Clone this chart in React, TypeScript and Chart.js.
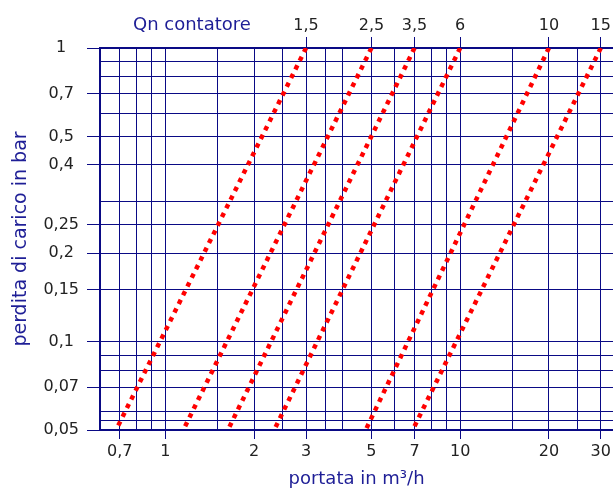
import React, { useEffect, useRef } from 'react';
import { Chart, registerables } from 'chart.js';

Chart.register(...registerables);

// ---- data ----
const qnLabels = ['1,5', '2,5', '3,5', '6', '10', '15'];
// flow (m³/h) where each meter line reaches 1 bar
const flowAt1Bar = [3, 5, 7, 10, 20, 30];
// flow (m³/h) where each meter line reaches 0,05 bar
const flowAt005Bar = [0.68, 1.15, 1.63, 2.34, 4.78, 6.9];
const pressureTop = 1;
const pressureBottom = 0.05;

const xGridValues = [0.7, 0.8, 0.9, 1, 1.5, 2, 2.5, 3, 3.5, 4, 5, 6, 7, 8, 9, 10, 15, 20, 25, 30];
const xLabelValues = [0.7, 1, 2, 3, 5, 7, 10, 20, 30];
const yGridValues = [0.05, 0.054, 0.058, 0.07, 0.08, 0.09, 0.1, 0.15, 0.2, 0.25, 0.3, 0.4, 0.5, 0.6, 0.7, 0.8, 0.9, 1];
const yLabelValues = [0.05, 0.07, 0.1, 0.15, 0.2, 0.25, 0.4, 0.5, 0.7, 1];

const xMin = 0.6;
const xMax = 33;
const yMin = 0.05;
const yMax = 1;

const NAVY = '#0a0a85';
const BLUE = '#1e1e96';
const TEXT = '#222222';
const FAMILY = '"DejaVu Sans", sans-serif';

const fmt = (v: number) => String(v).replace('.', ',');

const qnTitlePlugin = {
  id: 'qnTitle',
  afterDraw(chart: any) {
    const { ctx, chartArea } = chart;
    ctx.save();
    ctx.font = '18px ' + FAMILY;
    ctx.fillStyle = BLUE;
    ctx.textAlign = 'left';
    ctx.textBaseline = 'middle';
    ctx.fillText('Qn contatore', chartArea.left + 33, 25);
    ctx.restore();
  },
};

export default function App() {
  const canvasRef = useRef<HTMLCanvasElement | null>(null);

  useEffect(() => {
    if (!canvasRef.current) return;
    const chart = new Chart(canvasRef.current, {
      type: 'line',
      data: {
        datasets: qnLabels.map((q, i) => ({
          label: 'Qn ' + q,
          data: [
            { x: flowAt1Bar[i], y: pressureTop },
            { x: flowAt005Bar[i], y: pressureBottom },
          ],
          borderColor: '#ff0000',
          backgroundColor: '#ff0000',
          borderWidth: 4.5,
          borderDash: [4.5, 5.2],
          borderCapStyle: 'butt',
          pointRadius: 0,
          fill: false,
          tension: 0,
          xAxisID: 'x',
          yAxisID: 'y',
        })),
      },
      options: {
        responsive: false,
        animation: false,
        devicePixelRatio: 1,
        layout: { padding: 0, autoPadding: false },
        plugins: {
          legend: { display: false },
          tooltip: { enabled: false },
        },
        scales: {
          x: {
            type: 'logarithmic',
            position: 'bottom',
            min: xMin,
            max: xMax,
            afterBuildTicks: (s: any) => {
              s.ticks = xGridValues.map((v) => ({ value: v }));
            },
            afterFit: (s: any) => {
              s.height = 64;
            },
            ticks: {
              autoSkip: false,
              maxRotation: 0,
              minRotation: 0,
              padding: 3,
              color: TEXT,
              font: { family: FAMILY, size: 16 },
              callback: (v: any) => (xLabelValues.includes(Number(v)) ? fmt(Number(v)) : ''),
            },
            grid: {
              color: NAVY,
              lineWidth: 1,
              tickLength: 9,
              tickColor: (ctx: any) =>
                ctx.tick && xLabelValues.includes(ctx.tick.value) ? NAVY : 'rgba(0,0,0,0)',
            },
            border: { display: true, color: NAVY, width: 2 },
            title: {
              display: true,
              text: 'portata in m³/h',
              color: BLUE,
              font: { family: FAMILY, size: 18 },
              padding: { top: 0, bottom: 4 },
            },
          },
          x2: {
            type: 'logarithmic',
            position: 'top',
            min: xMin,
            max: xMax,
            afterBuildTicks: (s: any) => {
              s.ticks = flowAt1Bar.map((v) => ({ value: v }));
            },
            afterFit: (s: any) => {
              s.height = 48;
            },
            ticks: {
              autoSkip: false,
              maxRotation: 0,
              minRotation: 0,
              padding: 2,
              color: TEXT,
              font: { family: FAMILY, size: 16 },
              callback: (_v: any, i: number) => qnLabels[i],
            },
            grid: {
              drawOnChartArea: false,
              color: NAVY,
              tickLength: 11,
              tickColor: NAVY,
            },
            border: { display: true, color: NAVY, width: 2 },
          },
          y: {
            type: 'logarithmic',
            position: 'left',
            min: yMin,
            max: yMax,
            afterBuildTicks: (s: any) => {
              s.ticks = yGridValues.map((v) => ({ value: v }));
            },
            afterFit: (s: any) => {
              s.width = 100;
            },
            ticks: {
              autoSkip: false,
              crossAlign: 'center',
              padding: 8,
              color: TEXT,
              font: { family: FAMILY, size: 16 },
              callback: (v: any) => (yLabelValues.includes(Number(v)) ? fmt(Number(v)) : ''),
            },
            grid: {
              color: NAVY,
              lineWidth: 1,
              tickLength: 13,
              tickColor: (ctx: any) =>
                ctx.tick && yLabelValues.includes(ctx.tick.value) ? NAVY : 'rgba(0,0,0,0)',
            },
            border: { display: true, color: NAVY, width: 2 },
            title: {
              display: true,
              text: 'perdita di carico in bar',
              color: BLUE,
              font: { family: FAMILY, size: 19 },
              padding: { top: 10, bottom: 0 },
            },
          },
        },
      } as any,
      plugins: [qnTitlePlugin],
    });
    return () => chart.destroy();
  }, []);

  return (
    <div style={{ position: 'absolute', left: 0, top: 0, width: 614, height: 494, background: '#fff' }}>
      <canvas ref={canvasRef} width={614} height={494} style={{ width: 614, height: 494, display: 'block' }} />
    </div>
  );
}
